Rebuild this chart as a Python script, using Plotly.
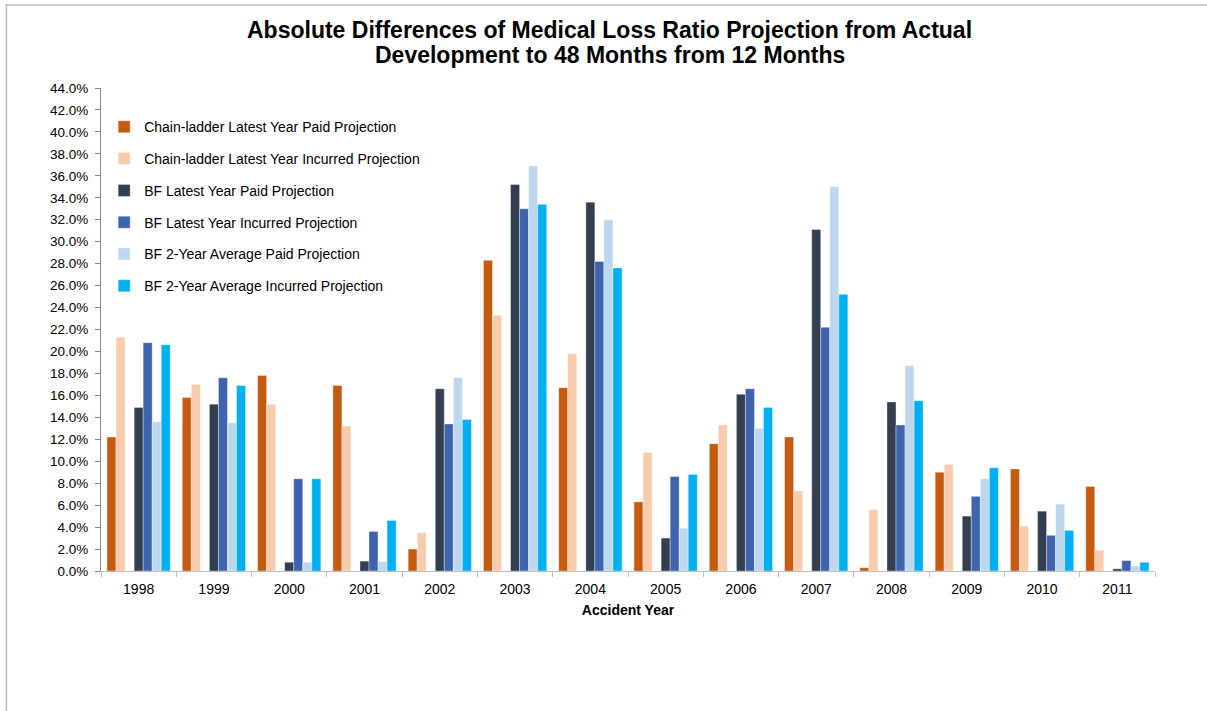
import plotly.graph_objects as go

years = ["1998", "1999", "2000", "2001", "2002", "2003", "2004",
         "2005", "2006", "2007", "2008", "2009", "2010", "2011"]

cl_paid = [12.2, 15.8, 17.8, 16.9, 2.0, 28.3, 16.7, 6.3, 11.6, 12.2, 0.3, 9.0, 9.3, 7.7]
cl_inc = [21.3, 17.0, 15.2, 13.2, 3.5, 23.3, 19.8, 10.8, 13.3, 7.3, 5.6, 9.7, 4.1, 1.9]
bf_paid = [14.9, 15.2, 0.8, 0.9, 16.6, 35.2, 33.6, 3.0, 16.1, 31.1, 15.4, 5.0, 5.45, 0.2]
bf_inc = [20.8, 17.6, 8.4, 3.6, 13.4, 33.0, 28.2, 8.6, 16.6, 22.2, 13.3, 6.8, 3.25, 0.95]
bf2_paid = [13.6, 13.5, 0.8, 0.85, 17.6, 36.9, 32.0, 3.9, 13.0, 35.0, 18.7, 8.4, 6.1, 0.45]
bf2_inc = [20.6, 16.9, 8.4, 4.6, 13.8, 33.4, 27.6, 8.8, 14.9, 25.2, 15.5, 9.4, 3.7, 0.8]

title_lines = ["Absolute Differences of Medical Loss Ratio Projection from Actual",
               "Development to 48 Months from 12 Months"]

series = [
    ("Chain-ladder Latest Year Paid Projection", cl_paid, "#C55A11"),
    ("Chain-ladder Latest Year Incurred Projection", cl_inc, "#F8CBAD"),
    (None, None, None),  # empty slot in the cluster (as in the original)
    ("BF Latest Year Paid Projection", bf_paid, "#333F50"),
    ("BF Latest Year Incurred Projection", bf_inc, "#3D64AD"),
    ("BF 2-Year Average Paid Projection", bf2_paid, "#BDD7EE"),
    ("BF 2-Year Average Incurred Projection", bf2_inc, "#00B0F0"),
]

FONT = "Arial, Liberation Sans, sans-serif"

fig = go.Figure()
for i, (name, vals, color) in enumerate(series):
    if name is None:
        fig.add_trace(go.Bar(x=years, y=[None] * len(years), showlegend=False,
                             hoverinfo="skip", legendgroup="empty"))
        continue
    fig.add_trace(go.Bar(
        x=years, y=[v / 100 for v in vals], name=name,
        marker=dict(color=color, line=dict(color="rgba(255,255,255,0.6)", width=0.6)),
        legendgroup=f"g{i}",
    ))

annotations = [
    dict(text=f"<b>{title_lines[0]}</b>", x=0.4829, y=1.1201),
    dict(text=f"<b>{title_lines[1]}</b>", x=0.4829, y=1.0683),
]
for a in annotations:
    a.update(xref="paper", yref="paper", xanchor="center", yanchor="middle",
             showarrow=False, font=dict(family=FONT, size=23, color="#000000"))

fig.update_layout(
    width=1207, height=711,
    margin=dict(l=101, r=52, t=88, b=140),
    paper_bgcolor="white", plot_bgcolor="white",
    barmode="group", bargap=0.16, bargroupgap=0,
    font=dict(family=FONT, size=13, color="#000000"),
    annotations=annotations,
    legend=dict(
        x=0.003, y=0.952, xanchor="left", yanchor="top",
        bgcolor="rgba(0,0,0,0)", font=dict(family=FONT, size=14),
        tracegroupgap=10.6, itemwidth=30,
    ),
    showlegend=True,
    xaxis=dict(
        type="category", showline=True, linecolor="#BFBFBF", linewidth=1,
        ticks="outside", ticklen=5, tickcolor="#BFBFBF", tickson="boundaries",
        showgrid=False, tickfont=dict(size=14), ticklabelstandoff=5,
        title=dict(text="<b>Accident Year</b>", font=dict(size=14), standoff=9),
    ),
    yaxis=dict(
        range=[0, 0.44], dtick=0.02, tick0=0, tickformat=".1%",
        showline=True, linecolor="#868686", linewidth=1,
        ticks="outside", ticklen=5, tickcolor="#868686", ticklabelstandoff=4,
        showgrid=False, zeroline=False, tickfont=dict(size=13.5),
    ),
    shapes=[
        dict(type="line", xref="paper", yref="paper",
             x0=-0.0905, x1=1.1, y0=1.1718, y1=1.1718,
             line=dict(color="#CFCFCF", width=2)),
        dict(type="line", xref="paper", yref="paper",
             x0=-0.0897, x1=-0.0897, y0=1.1728, y1=-0.4,
             line=dict(color="#BFBFBF", width=1.5)),
    ],
)

fig.write_html("out.html", config={"displayModeBar": False},
               post_script="document.body.style.margin='0';")
